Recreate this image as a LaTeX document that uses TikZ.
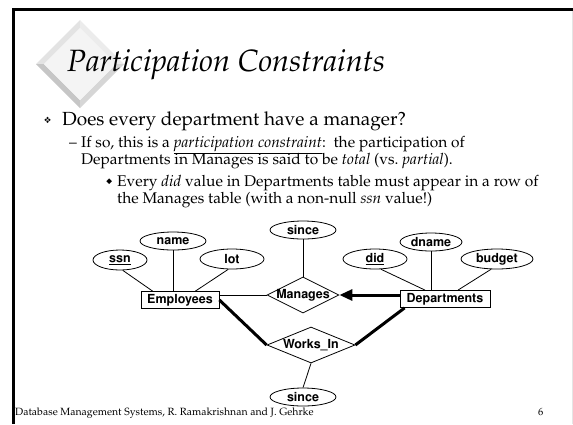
\documentclass[tikz,border=0pt]{standalone}
\usepackage[T1]{fontenc}
\usepackage{mathpazo}
\usepackage{pifont}
\usetikzlibrary{shapes.geometric, arrows.meta}

\newcommand{\ersans}{\fontfamily{phv}\fontseries{b}\fontsize{12.5}{14}\selectfont}

\tikzstyle{entity} = [rectangle, draw=black, line width=0.8pt, minimum width=78pt, minimum height=17pt, inner sep=0pt, font=\ersans]
\tikzstyle{attrib} = [ellipse, draw=black, line width=0.8pt, minimum width=64pt, minimum height=20pt, inner sep=0pt, font=\ersans]
\tikzstyle{relship} = [diamond, draw=black, line width=0.8pt, minimum width=72pt, minimum height=36pt, inner sep=0pt]
\tikzstyle{link} = [line width=0.8pt]
\tikzstyle{total} = [line width=3pt]
\tikzstyle{keyarrow} = [line width=3pt, -{Triangle[length=13pt, width=11pt]}]
\tikzstyle{bodytext} = [anchor=base west, inner sep=0pt]

\begin{document}
\begin{tikzpicture}[x=1pt, y=-1pt, every label/.style={font=\ersans, inner sep=0pt}]
\useasboundingbox (0,0) rectangle (573,424);

% slide frame
\draw [line width=3pt] (12,9.5) -- (573,9.5);
\draw [line width=3pt] (13,8) -- (13,424);
\draw [gray!20, line width=1pt] (572,11) -- (572,424);

% bevelled diamond behind the title
\fill [gray!22] (80,20) -- (36,64) -- (44,64) -- (80,28) -- cycle;
\fill [gray!15] (80,20) -- (124,64) -- (116,64) -- (80,28) -- cycle;
\fill [gray!45] (36,64) -- (80,108) -- (80,100) -- (44,64) -- cycle;
\fill [gray!32] (124,64) -- (80,108) -- (80,100) -- (116,64) -- cycle;
\fill [gray!9] (80,28) -- (116,64) -- (80,100) -- (44,64) -- cycle;

\node (title) [bodytext] at (67,71) {\fontsize{30.8}{36}\selectfont\itshape Participation Constraints};

\node (mark1) [bodytext] at (44,123) {\fontsize{9}{10}\selectfont\ding{118}};
\node (line1) [bodytext] at (62,125) {\fontsize{19}{22}\selectfont Does every department have a manager?};
\node (mark2) [bodytext] at (69,147) {\fontsize{15.5}{18}\selectfont --};
\node (line2) [bodytext] at (81,147) {\fontsize{15.5}{18}\selectfont If so, this is a \underline{\itshape participation constraint}:\ \ the participation of};
\node (line3) [bodytext] at (81,164) {\fontsize{15.5}{18}\selectfont Departments in Manages is said to be \textit{total} (vs.\ \textit{partial}).};
\node (mark3) [bodytext] at (106,184) {\fontsize{8}{9}\selectfont\ding{117}};
\node (line4) [bodytext] at (117,186) {\fontsize{15.5}{18}\selectfont Every \textit{did} value in Departments table must appear in a row of};
\node (line5) [bodytext] at (117,203) {\fontsize{15.5}{18}\selectfont the Manages table (with a non-null \textit{ssn} value!)};

% ER diagram
\node (emp) [entity] at (180,300) {Employees};
\node (dept) [entity, minimum width=90pt] at (445,299) {Departments};
\node (ssn) [attrib, minimum width=54pt] at (120,260) {\underline{ssn}};
\node (name) [attrib, minimum width=66pt, minimum height=18pt] at (173,241) {name};
\node (lot) [attrib] at (232,259) {lot};
\node (did) [attrib] at (375,259) {\underline{did}};
\node (dname) [attrib, minimum width=62pt, minimum height=18pt] at (431,242) {dname};
\node (budget) [attrib, minimum width=72pt] at (497,259) {budget};
\node (since1) [attrib, minimum width=66pt, minimum height=18pt] at (303,230) {since};
\node (manages) [relship, label=center:Manages] at (303,295) {};
\node (worksin) [relship, minimum width=88pt, label=center:Works\_In] at (311,345) {};
\node (since2) [attrib, minimum width=66pt, minimum height=18pt] at (303,397) {since};

\draw [link] (ssn.-75) -- ([xshift=12pt]emp.north west);
\draw [link] (name.south) -- (name.south |- emp.north);
\draw [link] (lot.-110) -- ([xshift=-24pt]emp.north east);
\draw [link] (did.-60) -- ([xshift=-20pt]dept.north);
\draw [link] (dname.south) -- (dname.south |- dept.north);
\draw [link] (budget.-120) -- ([xshift=13pt]dept.north);
\draw [link] (since1.south) -- (manages.north);
\draw [link] (emp.east |- manages.west) -- (manages.west);
\draw [keyarrow] (dept.west |- manages.east) -- (manages.east);
\draw [total] (emp.east) -- (worksin.west);
\draw [total] (worksin.east) -- ([xshift=5pt]dept.south west);
\draw [link] (worksin.south) -- (since2.north);

\node (footer) [bodytext] at (15,415) {\fontsize{10.5}{12}\selectfont Database Management Systems, R. Ramakrishnan and J. Gehrke};
\node (pagenum) [bodytext] at (538,415) {\fontsize{10.5}{12}\selectfont 6};
\end{tikzpicture}
\end{document}
